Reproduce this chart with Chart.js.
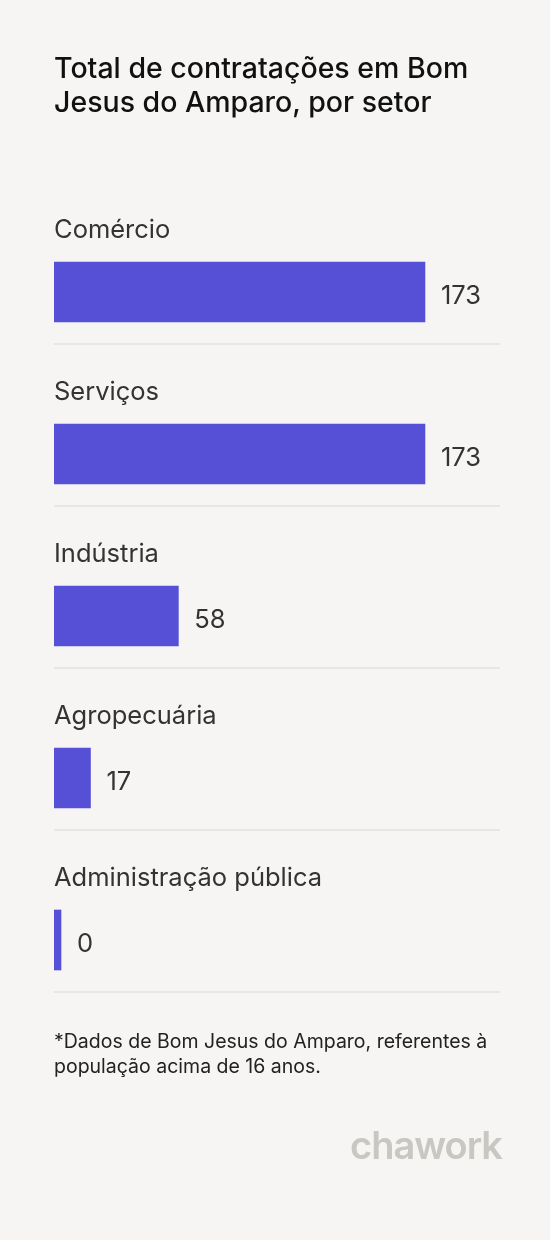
<!DOCTYPE html>
<html lang="pt">
<head>
<meta charset="UTF-8">
<title>Contratações por setor</title>
<style>
    body { margin: 0; background: #f6f5f3; font-family: Inter, 'Noto Sans', sans-serif; color: #222; }
    .wrap { position: relative; width: 550px; height: 1240px; overflow: hidden; }
    canvas { position: absolute; left: 0; top: 0; }
    h1 { position: absolute; left: 54px; top: 51px; width: 450px; margin: 0; font-size: 28.5px; font-weight: 500; line-height: 34px; color: #111; }
    .note { position: absolute; left: 54px; top: 1029px; width: 462px; font-size: 19.5px; line-height: 25px; color: #222; }
    .logo { position: absolute; right: 48px; top: 1122px; font-size: 38px; font-weight: 600; color: #c9c7c1; letter-spacing: -1px; }
</style>
<script src="https://cdn.jsdelivr.net/npm/chart.js"></script>
</head>
<body>
<div class="wrap">
    <canvas id="chart" width="550" height="1240"></canvas>
    <h1>Total de contratações em Bom Jesus do Amparo, por setor</h1>
    <div class="note">*Dados de Bom Jesus do Amparo, referentes à população acima de 16 anos.</div>
    <div class="logo">chawork</div>
</div>
<script>
    const sectors = ['Comércio', 'Serviços', 'Indústria', 'Agropecuária', 'Administração pública'];
    const hires = [173, 173, 58, 17, 0];

    // labels above bars, values to the right, separators below
    const decorations = {
        id: 'decorations',
        afterDatasetsDraw(chart) {
            const ctx = chart.ctx;
            const meta = chart.getDatasetMeta(0);
            const area = chart.chartArea;
            ctx.save();
            meta.data.forEach((bar, i) => {
                ctx.fillStyle = '#333';
                ctx.textBaseline = 'middle';
                ctx.font = '25.5px Inter, sans-serif';
                ctx.textAlign = 'left';
                ctx.fillText(sectors[i], area.left, bar.y - 62);
                ctx.fillText(String(hires[i]), bar.x + 16, bar.y + 4);
                ctx.strokeStyle = '#e2e0dc';
                ctx.lineWidth = 1.5;
                ctx.beginPath();
                ctx.moveTo(area.left, bar.y + 52);
                ctx.lineTo(area.right, bar.y + 52);
                ctx.stroke();
            });
            ctx.restore();
        }
    };

    new Chart(document.getElementById('chart'), {
        type: 'bar',
        data: {
            labels: sectors,
            datasets: [{
                data: hires,
                backgroundColor: '#5650d6',
                barThickness: 60,
                minBarLength: 7
            }]
        },
        options: {
            indexAxis: 'y',
            responsive: false,
            animation: false,
            layout: { padding: { top: 211, bottom: 219, left: 54, right: 50 } },
            scales: {
                x: { display: false, min: 0, max: 208 },
                y: { display: false }
            },
            plugins: { legend: { display: false }, tooltip: { enabled: false } }
        },
        plugins: [decorations]
    });
</script>
</body>
</html>
